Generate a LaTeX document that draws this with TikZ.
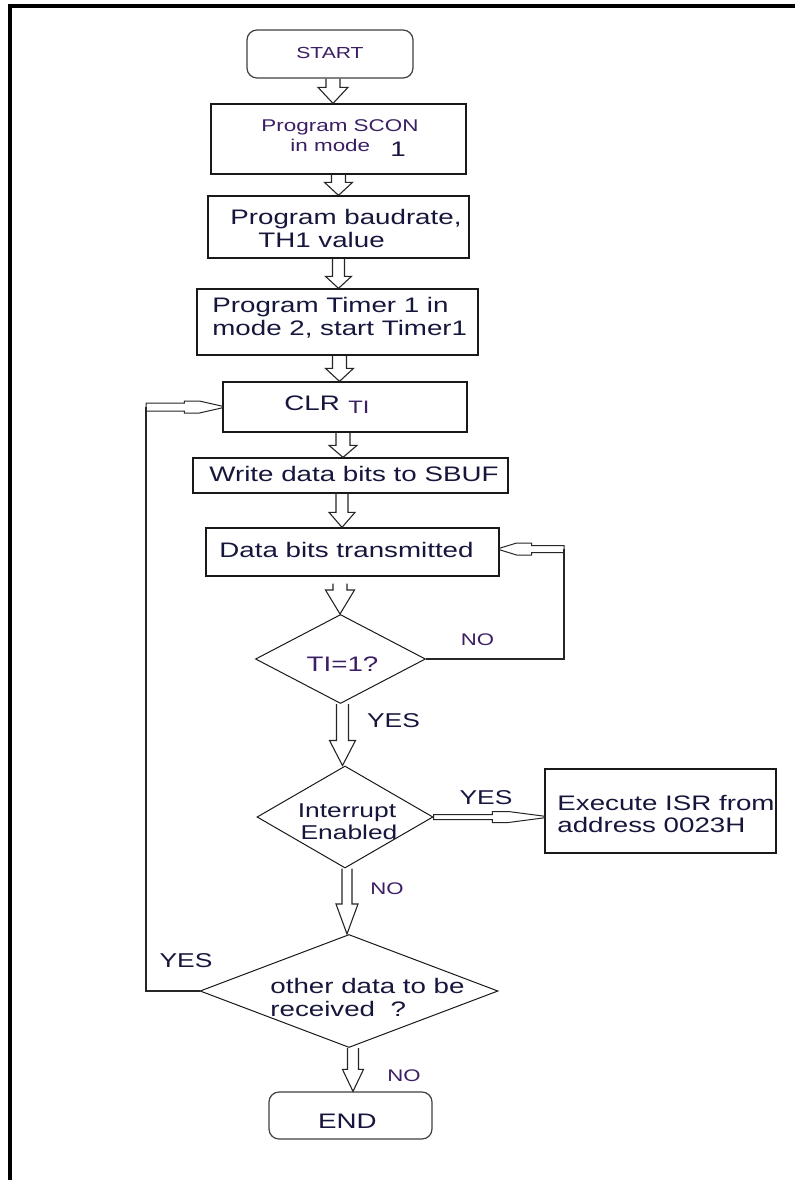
\documentclass[tikz,border=0pt]{standalone}
\usepackage{fontspec}
\setmainfont{Liberation Sans}[FakeStretch=1.32]
\usetikzlibrary{shapes.geometric,calc}
\definecolor{txt}{RGB}{22,22,60}
\definecolor{purp}{RGB}{60,30,100}
\tikzset{
  ba len/.store in=\balen, ba shaft/.store in=\bashaft, ba head/.store in=\bahead,
  ba len=7pt, ba shaft=3.5pt, ba head=7pt,
  ta shaft/.store in=\tashaft, ta head/.store in=\tahead,
  ta flat/.store in=\taflat, ta taper/.store in=\tataper,
  ta shaft=1.75pt, ta head=3pt, ta flat=19pt, ta taper=11.5pt,
  blockarrow/.style={draw=black!85, line width=0.55pt, line join=miter,
    to path={let \p1=(\tikztostart), \p2=(\tikztotarget) in
      (\x1-\bashaft,\y1) -- (\x1-\bashaft,\y2+\balen) -- (\x1-\bahead,\y2+\balen)
      -- (\x1,\y2) -- (\x1+\bahead,\y2+\balen) -- (\x1+\bashaft,\y2+\balen)
      -- (\x1+\bashaft,\y1)}},
  thinarrow/.style={draw=black!85, line width=0.5pt,
    to path={let \p1=(\tikztostart), \p2=(\tikztotarget), \n1={(\x2>\x1)*2-1} in
      (\x1,\y1+\tashaft) -- ({\x2-(\n1)*\taflat},\y1+\tashaft) -- ({\x2-(\n1)*\taflat},\y1+\tahead)
      -- ({\x2-(\n1)*\tataper},\y1+\tahead) -- (\x2,\y1+0.4pt) -- (\x2,\y1-0.4pt)
      -- ({\x2-(\n1)*\tataper},\y1-\tahead) -- ({\x2-(\n1)*\taflat},\y1-\tahead)
      -- ({\x2-(\n1)*\taflat},\y1-\tashaft) -- (\x1,\y1-\tashaft) -- cycle}},
  conn/.style={draw=black!85, line width=0.65pt},
  box/.style={draw=black!90, line width=0.65pt, inner sep=0pt},
  term/.style={draw=black!75, line width=0.6pt, rounded corners=5pt, inner sep=0pt},
  dia/.style={diamond, draw=black!90, line width=0.5pt, inner sep=0pt},
  t/.style={inner sep=0pt, anchor=base west, text=txt, font=\fontsize{10.5}{12}\selectfont},
  tc/.style={t, anchor=base},
  lab/.style={inner sep=0pt, anchor=base, text=purp, font=\fontsize{8.4}{10}\selectfont},
  yes/.style={inner sep=0pt, anchor=base, text=txt, font=\fontsize{10}{12}\selectfont},
}
\begin{document}
\begin{tikzpicture}[x=0.5pt,y=-0.5pt]
\fill[white] (0,0) rectangle (795,1180);
\useasboundingbox (0,0) rectangle (795,1180);
\draw[line width=2pt] (10,1180) -- (10,6) -- (795,6);

% shapes
\node[term, minimum width=83pt, minimum height=24pt] (start) at (330,54) {};
\node[box, minimum width=127.5pt, minimum height=35pt] (scon) at (338.5,139) {};
\node[box, minimum width=130.5pt, minimum height=31pt] (baud) at (338.5,227) {};
\node[box, minimum width=140.5pt, minimum height=33pt] (timer) at (337.5,322) {};
\node[box, minimum width=122pt, minimum height=25pt] (clr) at (345,407) {};
\node[box, minimum width=157.5pt, minimum height=17.5pt] (write) at (350.5,475.5) {};
\node[box, minimum width=146.5pt, minimum height=24pt] (data) at (352.5,552) {};
\node[dia, minimum width=85pt, minimum height=44.5pt] (ti) at (340.5,659) {};
\node[dia, minimum width=88pt, minimum height=51pt] (int) at (345,817) {};
\node[box, minimum width=115.5pt, minimum height=42pt] (isr) at (660.5,811) {};
\node[dia, minimum width=149pt, minimum height=56.5pt] (other) at (349,991) {};
\node[term, minimum width=81.5pt, minimum height=23.5pt] (end) at (350.5,1115.5) {};

% texts
\node[tc, text=purp, font=\fontsize{8}{10}\selectfont] (startT) at (330,58) {START};
\node[tc, text=purp, font=\fontsize{8.5}{10}\selectfont] (sconT1) at (340,131) {Program SCON};
\node[t, text=purp, font=\fontsize{8.5}{10}\selectfont] (sconT2) at (290,151) {in mode};
\node[t] (sconT3) at (390,156) {1};
\node[t] (baudT1) at (230,224) {Program baudrate,};
\node[t] (baudT2) at (258,247) {TH1 value};
\node[t] (timerT1) at (212,312) {Program Timer 1 in};
\node[t] (timerT2) at (212,335) {mode 2, start Timer1};
\node[t] (clrT1) at (284,410) {CLR};
\node[t, text=purp, font=\fontsize{9}{10}\selectfont] (clrT2) at (348,413) {TI};
\node[t] (writeT) at (209,481) {Write data bits to SBUF};
\node[t] (dataT) at (219,557) {Data bits transmitted};
\node[tc, text=purp] (tiT) at (342.5,671) {TI=1?};
\node[tc, font=\fontsize{10}{12}\selectfont] (intT1) at (347,817) {Interrupt};
\node[tc, font=\fontsize{10}{12}\selectfont] (intT2) at (349,839) {Enabled};
\node[t] (isrT1) at (557,810) {Execute ISR from};
\node[t] (isrT2) at (557,832) {address 0023H};
\node[t] (otherT1) at (270,993) {other data to be};
\node[t] (otherT2) at (270,1016) {received~~?};
\node[tc] (endT) at (347.5,1128) {END};

% labels
\node[lab] (no1) at (477.5,645) {NO};
\node[yes] (yes1) at (393.5,727) {YES};
\node[yes] (yes2) at (486,804) {YES};
\node[lab] (no2) at (387,894) {NO};
\node[yes] (yes3) at (186,967) {YES};
\node[lab] (no3) at (404,1081) {NO};

% block arrows
\draw[blockarrow, ba len=8pt, ba shaft=3.5pt, ba head=7.5pt] ([xshift=1.5pt]start.south) to (scon.north);
\draw[blockarrow, ba len=6.5pt] (scon.south) to (baud.north);
\draw[blockarrow, ba len=6pt, ba shaft=3pt, ba head=6.5pt] (baud.south) to (timer.north);
\draw[blockarrow, ba len=6.5pt] ([xshift=1pt]timer.south) to (clr.north);
\draw[blockarrow, ba len=6pt] ([xshift=-1pt]clr.south) to (write.north);
\draw[blockarrow, ba len=7.5pt, ba shaft=3pt, ba head=6.5pt] ([xshift=-4.25pt]write.south) to (data.north);
\draw[blockarrow, ba len=12pt, ba shaft=3.5pt, ba head=7.25pt] ([xshift=-6.25pt,yshift=-3.5pt]data.south) to (ti.north);
\draw[blockarrow, ba len=12.5pt, ba shaft=3pt, ba head=6.5pt] ([xshift=1pt]ti.south) to (int.north);
\draw[blockarrow, ba len=15pt, ba shaft=2.5pt, ba head=5.5pt] ([xshift=1pt]int.south) to (other.north);
\draw[blockarrow, ba len=11pt, ba shaft=2.75pt, ba head=5.25pt] ([xshift=2pt]other.south) to (end.north);

% loops
\coordinate (noC) at (564,549);
\draw[conn] (ti.east) -| (noC);
\draw[thinarrow, ta flat=16pt, ta taper=8.5pt] (noC) to (data.east);
\coordinate (yesC) at (146,407);
\draw[conn] (other.west) -| (yesC);
\draw[thinarrow, ta shaft=2pt] (yesC) to (clr.west);
\draw[thinarrow, ta shaft=1.25pt, ta head=2.75pt, ta flat=26pt, ta taper=18pt] (int.east) to (isr.west);
\end{tikzpicture}
\end{document}
